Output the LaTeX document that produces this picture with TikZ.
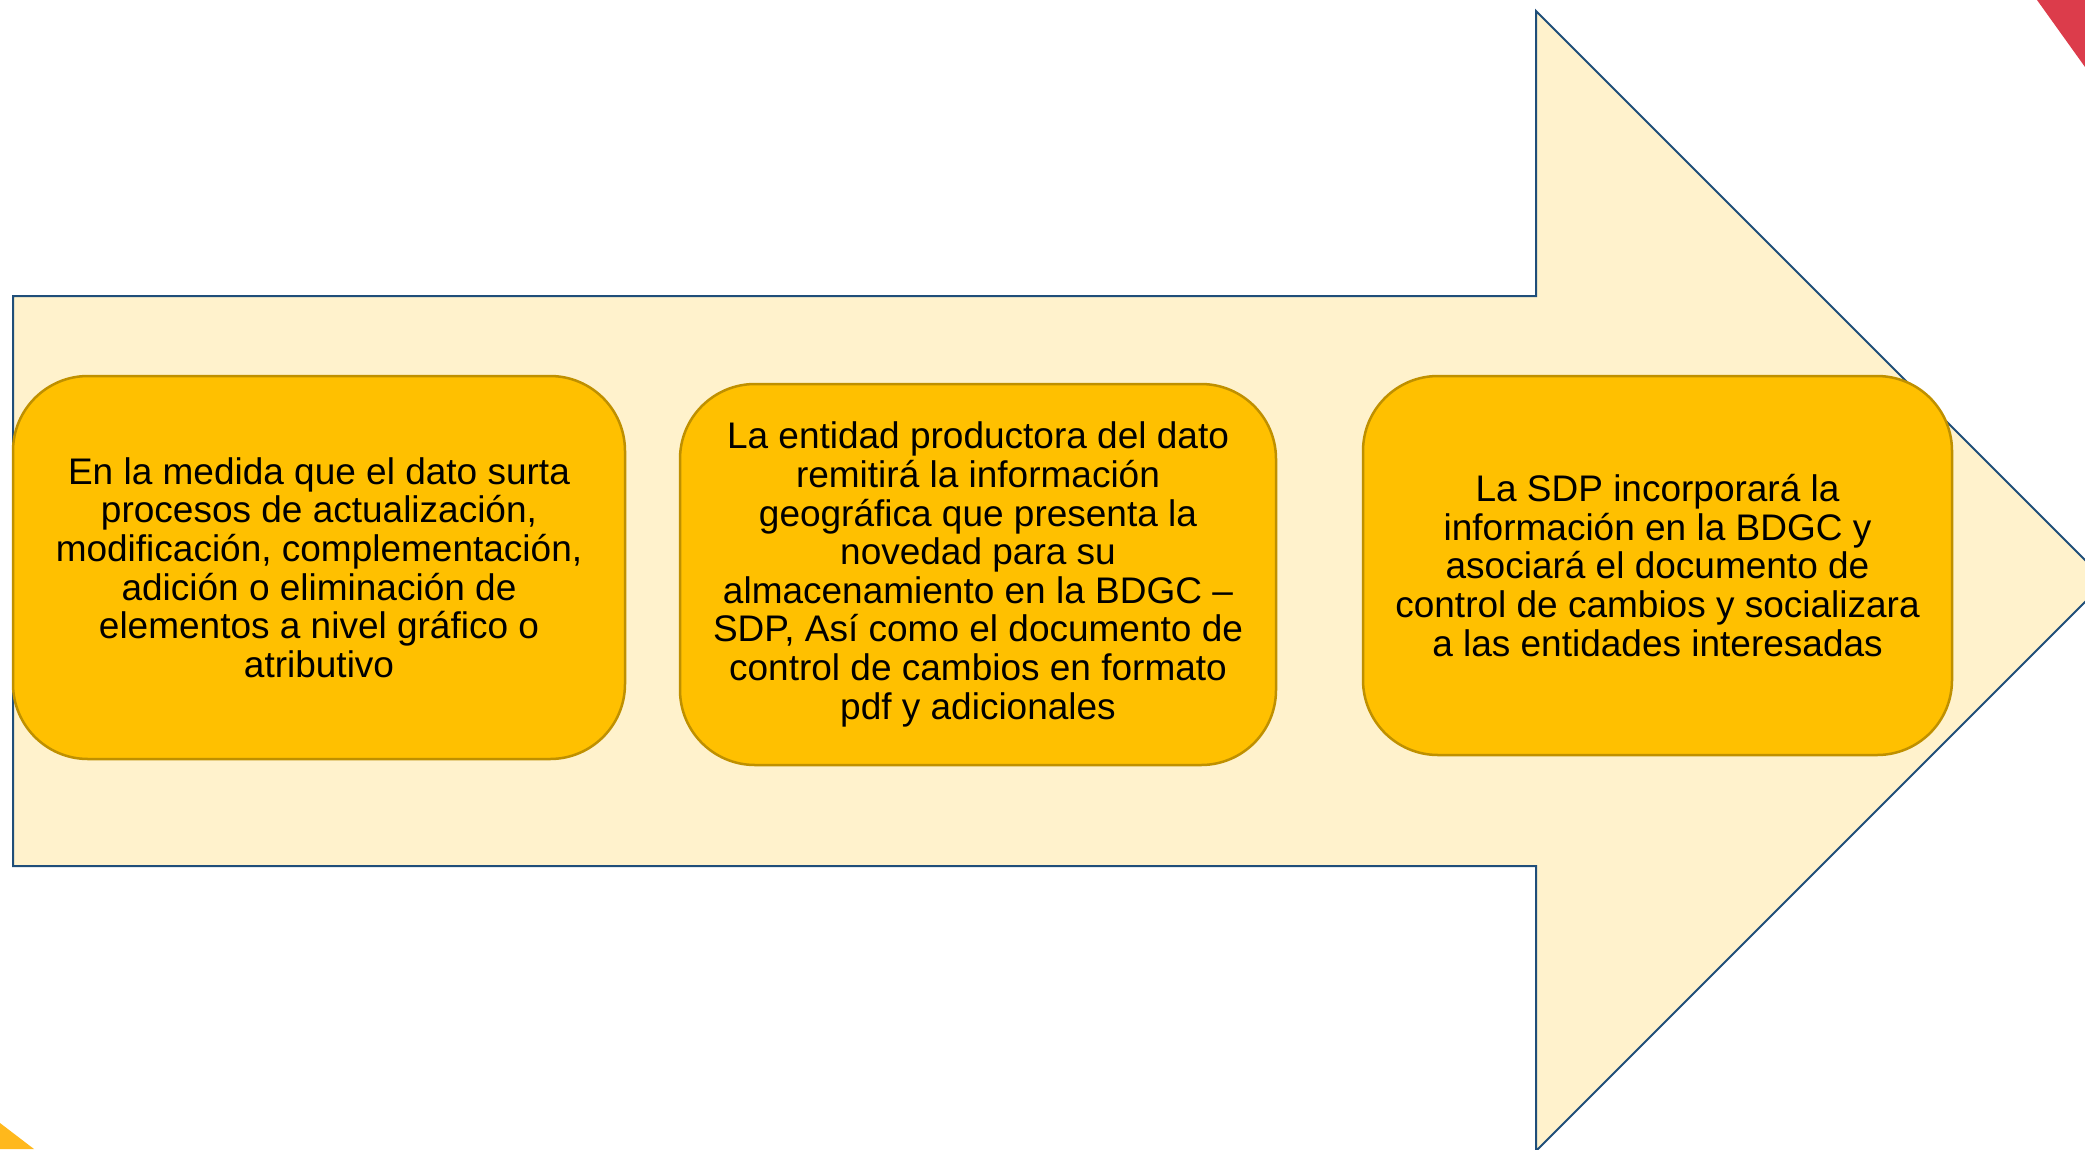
\documentclass[tikz,border=0pt]{standalone}
\usepackage{fontspec}
\setmainfont{Liberation Sans}
\definecolor{arrowfill}{HTML}{FFF2CC}
\definecolor{arrowline}{HTML}{1F4E79}
\definecolor{boxfill}{HTML}{FFC000}
\definecolor{boxline}{HTML}{BF9000}
\definecolor{redc}{HTML}{DC3C4B}
\definecolor{yelc}{HTML}{FFB81C}
\tikzset{
  bigarrow/.style={fill=arrowfill, draw=arrowline, line width=2pt, line join=miter},
  stepbox/.style={rectangle, rounded corners=75pt, fill=boxfill, draw=boxline, line width=2.5pt,
    align=center, inner sep=0pt, font=\fontsize{37}{38.6}\selectfont},
}
\begin{document}
\begin{tikzpicture}[x=1pt,y=-1pt]
\useasboundingbox (0,0) rectangle (2085,1149);
\begin{scope}
\clip (0,0) rectangle (2085,1149);
\fill[redc] (2037,0) -- (2085,0) -- (2085,67) -- cycle;
\fill[yelc] (0,1123) -- (34,1149) -- (0,1149) -- cycle;
\draw[bigarrow] (13,296) -- (1536,296) -- (1536,11) -- (2106,581) -- (1536,1151) -- (1536,866) -- (13,866) -- cycle;
\end{scope}
\node[stepbox, minimum width=612pt, minimum height=383pt] (b1) at (319,567.5)
  {En la medida que el dato surta\\procesos de actualización,\\modificación, complementación,\\adición o eliminación de\\elementos a nivel gráfico o\\atributivo};
\node[stepbox, minimum width=596pt, minimum height=381pt] (b2) at (978,574.5)
  {La entidad productora del dato\\remitirá la información\\geográfica que presenta la\\novedad para su\\almacenamiento en la BDGC –\\SDP, Así como el documento de\\control de cambios en formato\\pdf y adicionales};
\node[stepbox, minimum width=589pt, minimum height=379pt] (b3) at (1657.5,565.5)
  {La SDP incorporará la\\información en la BDGC y\\asociará el documento de\\control de cambios y socializara\\a las entidades interesadas};
\end{tikzpicture}
\end{document}
